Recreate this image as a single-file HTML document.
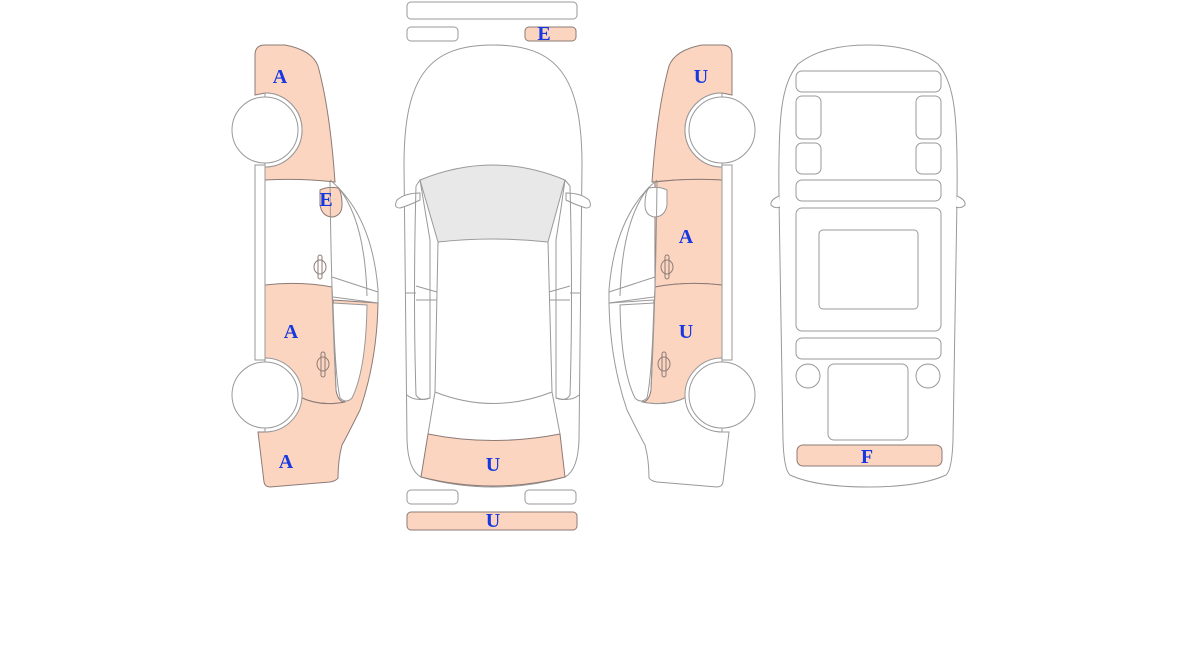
<!DOCTYPE html>
<html><head><meta charset="utf-8"><style>
html,body{margin:0;padding:0;background:#fff;width:1200px;height:661px;overflow:hidden}
svg{display:block}
text{font-family:"Liberation Serif",serif;font-weight:900;font-size:20px;fill:#1638e0;text-anchor:middle}
</style></head><body>
<svg width="1200" height="661" viewBox="0 0 1200 661" xmlns="http://www.w3.org/2000/svg">
<defs>
<g id="side-lines">
  <path d="M330,180 Q372,215 378,290 L378,303" fill="none" stroke="#999"/>
  <path d="M338,187 Q365,220 367,296" fill="none" stroke="#999"/>
  <path d="M332,277 L378,292 M333,297 L378,303" fill="none" stroke="#999"/>
  <path d="M330,182 Q331,290 336,390" fill="none" stroke="#999"/>
  <path d="M333,303 L367,305 Q366,370 352,398 Q346,404 340,398 Q336,380 334,330 Z" fill="#fff" stroke="#999"/>
  <rect x="255" y="165" width="10" height="195" fill="#fff" stroke="#999"/>
  <rect x="318" y="255" width="4" height="24" rx="2" fill="none" stroke="#8c7b76"/>
  <ellipse cx="320" cy="267" rx="6" ry="7" fill="none" stroke="#8c7b76"/>
  <rect x="321" y="352" width="4" height="25" rx="2" fill="none" stroke="#8c7b76"/>
  <ellipse cx="323" cy="364" rx="6" ry="7" fill="none" stroke="#8c7b76"/>
  <path d="M265,93 A37,37 0 0 1 265,167 Z" fill="#fff" stroke="#999"/>
  <circle cx="265" cy="130" r="33" fill="#fff" stroke="#999"/>
  <path d="M265,358 A37,37 0 0 1 265,432 Z" fill="#fff" stroke="#999"/>
  <circle cx="265" cy="395" r="33" fill="#fff" stroke="#999"/>
</g>
</defs>

<g stroke="#8c7b76" stroke-width="1">
  <path d="M255,95 L255,55 Q255,45 265,45 L285,45 Q312,50 318,66 Q330,110 335,182 Q300,178 265,180 L265,167 A37,37 0 0 0 302,130 A37,37 0 0 0 265,93 Z" fill="#fcd5c1"/>
  <path d="M265,285 Q300,281 332,287 L336,390 Q338,402 345,402 Q320,407 300,397 A37,37 0 0 0 265,358 Z" fill="#fcd5c1"/>
  <path d="M333,300 L378,303 Q377,360 360,410 Q345,440 342,445 Q338,460 338,478 Q336,481 330,482 L270,487 Q265,487 264,482 L258,432 L265,432 A37,37 0 0 0 300,397 Q320,407 345,402 Z" fill="#fcd5c1"/>
  <path d="M320,190 Q328,186 338,188 Q342,192 342,205 Q342,215 333,217 Q322,217 320,205 Z" fill="#fcd5c1"/>
</g>
<use href="#side-lines"/>

<g transform="translate(987,0) scale(-1,1)">
  <g stroke="#8c7b76" stroke-width="1">
    <path d="M255,95 L255,55 Q255,45 265,45 L285,45 Q312,50 318,66 Q330,110 335,182 Q300,178 265,180 L265,167 A37,37 0 0 0 302,130 A37,37 0 0 0 265,93 Z" fill="#fcd5c1"/>
    <path d="M265,180 Q300,178 332,182 L332,287 Q300,281 265,285 Z" fill="#fcd5c1"/>
    <path d="M265,285 Q300,281 332,287 L336,390 Q338,402 345,402 Q320,407 300,397 A37,37 0 0 0 265,358 Z" fill="#fcd5c1"/>
  </g>
  <path d="M333,300 L378,303 Q377,360 360,410 Q345,440 342,445 Q338,460 338,478 Q336,481 330,482 L270,487 Q265,487 264,482 L258,432 L265,432 A37,37 0 0 0 300,397 Q320,407 345,402 Z" fill="#fff" stroke="#999"/>
  <path d="M320,190 Q328,186 338,188 Q342,192 342,205 Q342,215 333,217 Q322,217 320,205 Z" fill="#fff" stroke="#999"/>
  <use href="#side-lines"/>
</g>

<g fill="none" stroke="#999">
  <rect x="407" y="2" width="170" height="17" rx="4" fill="#fff"/>
  <rect x="407" y="27" width="51" height="14" rx="4" fill="#fff"/>
  <rect x="525" y="27" width="51" height="14" rx="4" fill="#fcd5c1" stroke="#8c7b76"/>
  <rect x="407" y="490" width="51" height="14" rx="4" fill="#fff"/>
  <rect x="525" y="490" width="51" height="14" rx="4" fill="#fff"/>
  <rect x="407" y="512" width="170" height="18" rx="4" fill="#fcd5c1" stroke="#8c7b76"/>
  <path d="M404,165 C404,75 430,45 493,45 C556,45 582,75 582,165 L579,440 Q578,470 565,477 Q530,487 493,487 Q456,487 421,477 Q408,470 407,440 Z" fill="#fff"/>
  <path d="M420,193 Q405,193 397,200 Q393,208 400,208 Q410,205 420,200 Z" fill="#fff"/>
  <path d="M566,193 Q581,193 589,200 Q593,208 586,208 Q576,205 566,200 Z" fill="#fff"/>
  <path d="M420,180 Q493,150 565,180 L548,242 Q493,236 438,242 Z" fill="#e8e8e8"/>
  <path d="M416,186 L420,180 M570,186 L565,180"/>
  <path d="M416,186 Q413,300 416,395 Q420,402 430,398 L430,240 Q425,210 420,180"/>
  <path d="M570,186 Q573,300 570,395 Q566,402 556,398 L556,240 Q561,210 565,180"/>
  <path d="M407,395 Q415,402 430,398 M579,395 Q571,402 556,398"/>
  <path d="M406,293 L416,293 M416,286 L437,292 M416,300 L437,300"/>
  <path d="M580,293 L570,293 M570,286 L549,292 M570,300 L549,300"/>
  <path d="M438,242 L435,392 Q493,415 552,392 L548,242"/>
  <path d="M435,392 L428,434 M552,392 L560,434"/>
  <path d="M428,434 Q493,447 560,434 L565,477 Q493,495 421,477 Z" fill="#fcd5c1" stroke="#8c7b76"/>
</g>

<g fill="#fff" stroke="#999">
  <path d="M779,200 C778,115 781,85 798,64 Q822,45 868,45 Q914,45 938,64 C955,85 958,115 957,200 L953,440 Q952,470 946,475 Q920,487 868,487 Q816,487 790,475 Q784,470 783,440 Z"/>
  <path d="M779,196 Q770,200 771,205 Q775,209 780,207 M957,196 Q966,200 965,205 Q961,209 956,207"/>
  <rect x="796" y="71" width="145" height="21" rx="6"/>
  <rect x="796" y="96" width="25" height="43" rx="6"/>
  <rect x="916" y="96" width="25" height="43" rx="6"/>
  <rect x="796" y="143" width="25" height="31" rx="6"/>
  <rect x="916" y="143" width="25" height="31" rx="6"/>
  <rect x="796" y="180" width="145" height="21" rx="6"/>
  <rect x="796" y="208" width="145" height="123" rx="6"/>
  <rect x="819" y="230" width="99" height="79" rx="4"/>
  <rect x="796" y="338" width="145" height="21" rx="6"/>
  <circle cx="808" cy="376" r="12"/>
  <circle cx="928" cy="376" r="12"/>
  <rect x="828" y="364" width="80" height="76" rx="6"/>
  <rect x="797" y="445" width="145" height="21" rx="6" fill="#fcd5c1" stroke="#8c7b76"/>
</g>

<text x="280" y="83">A</text>
<text x="326" y="206">E</text>
<text x="291" y="338">A</text>
<text x="286" y="468">A</text>
<text x="701" y="83">U</text>
<text x="686" y="243">A</text>
<text x="686" y="338">U</text>
<text x="544" y="40">E</text>
<text x="493" y="471">U</text>
<text x="493" y="527">U</text>
<text x="867" y="463">F</text>
</svg>
</body></html>
